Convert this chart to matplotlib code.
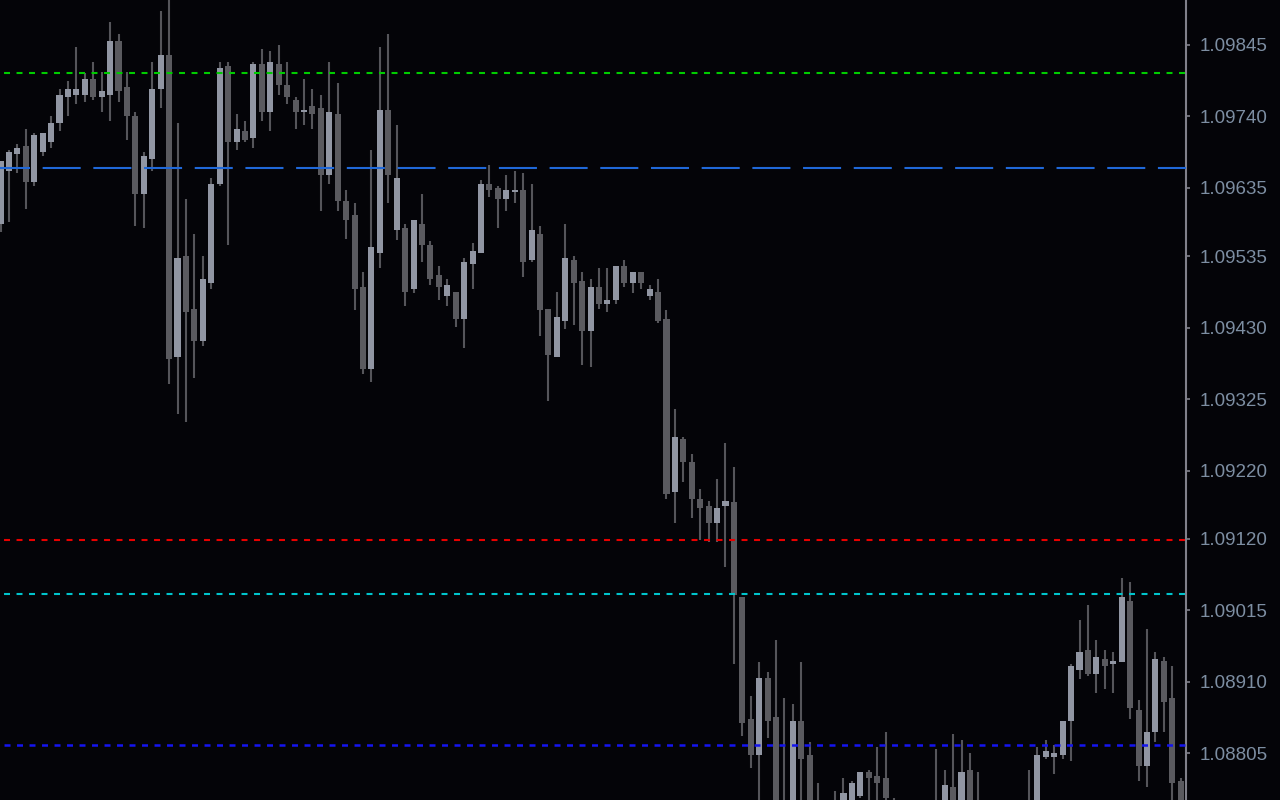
import numpy as np
import matplotlib.pyplot as plt

plt.rcParams['lines.scale_dashes'] = False

# OHLC, one entry per bar (left to right)
opens = [
    1.09582, 1.09660, 1.09685, 1.09697, 1.09644, 1.09688, 1.09702, 1.09730, 1.09769, 1.09771,
    1.09771, 1.09795, 1.09769, 1.09771, 1.09851, 1.09783, 1.09741, 1.09626, 1.09677, 1.09780,
    1.09830, 1.09387, 1.09535, 1.09458, 1.09411, 1.09495, 1.09641, 1.09814, 1.09702, 1.09719,
    1.09708, 1.09817, 1.09746, 1.09817, 1.09786, 1.09764, 1.09746, 1.09755, 1.09752, 1.09654,
    1.09744, 1.09616, 1.09595, 1.09489, 1.09369, 1.09539, 1.09749, 1.09573, 1.09576, 1.09486,
    1.09582, 1.09551, 1.09507, 1.09476, 1.09483, 1.09442, 1.09523, 1.09539, 1.09641, 1.09635,
    1.09619, 1.09629, 1.09632, 1.09529, 1.09567, 1.09458, 1.09387, 1.09439, 1.09529, 1.09498,
    1.09425, 1.09489, 1.09464, 1.09470, 1.09520, 1.09495, 1.09511, 1.09476, 1.09483, 1.09442,
    1.09188, 1.09266, 1.09232, 1.09179, 1.09168, 1.09143, 1.09168, 1.09174, 1.09034, 1.08855,
    1.08802, 1.08916, 1.08858, 1.08725, 1.08720, 1.08852, 1.08802, 1.08730, 1.08712, 1.08720,
    1.08730, 1.08728, 1.08743, 1.08777, 1.08771, 1.08768, 1.08728, 1.08730, 1.08712, 1.08705,
    1.08720, 1.08715, 1.08725, 1.08755, 1.08730, 1.08780, 1.08737, 1.08725, 1.08710, 1.08722,
    1.08715, 1.08720, 1.08726, 1.08725, 1.08799, 1.08799, 1.08802, 1.08852, 1.08928, 1.08956,
    1.08922, 1.08944, 1.08936, 1.08939, 1.09028, 1.08869, 1.08786, 1.08836, 1.08941, 1.08886,
    1.08765,
]
highs = [
    1.09675, 1.09691, 1.09700, 1.09722, 1.09716, 1.09716, 1.09741, 1.09780, 1.09792, 1.09842,
    1.09804, 1.09820, 1.09805, 1.09879, 1.09861, 1.09805, 1.09746, 1.09688, 1.09820, 1.09895,
    1.09918, 1.09730, 1.09619, 1.09567, 1.09535, 1.09650, 1.09820, 1.09820, 1.09744, 1.09733,
    1.09820, 1.09839, 1.09836, 1.09845, 1.09820, 1.09769, 1.09795, 1.09780, 1.09771, 1.09820,
    1.09789, 1.09632, 1.09613, 1.09511, 1.09691, 1.09842, 1.09861, 1.09727, 1.09582, 1.09588,
    1.09626, 1.09557, 1.09520, 1.09501, 1.09483, 1.09532, 1.09554, 1.09647, 1.09669, 1.09638,
    1.09654, 1.09660, 1.09657, 1.09641, 1.09579, 1.09458, 1.09483, 1.09582, 1.09535, 1.09511,
    1.09501, 1.09517, 1.09517, 1.09520, 1.09529, 1.09511, 1.09511, 1.09492, 1.09501, 1.09456,
    1.09310, 1.09269, 1.09244, 1.09193, 1.09176, 1.09207, 1.09260, 1.09226, 1.09034, 1.08889,
    1.08939, 1.08925, 1.08972, 1.08886, 1.08877, 1.08939, 1.08821, 1.08762, 1.08737, 1.08749,
    1.08768, 1.08765, 1.08777, 1.08780, 1.08814, 1.08836, 1.08740, 1.08734, 1.08725, 1.08728,
    1.08733, 1.08811, 1.08780, 1.08833, 1.08824, 1.08805, 1.08777, 1.08734, 1.08730, 1.08733,
    1.08728, 1.08734, 1.08780, 1.08814, 1.08824, 1.08817, 1.08852, 1.08936, 1.09000, 1.09022,
    1.08972, 1.08956, 1.08953, 1.09062, 1.09056, 1.08883, 1.08987, 1.08953, 1.08947, 1.08933,
    1.08768,
]
lows = [
    1.09570, 1.09585, 1.09657, 1.09604, 1.09638, 1.09682, 1.09694, 1.09719, 1.09741, 1.09758,
    1.09761, 1.09764, 1.09746, 1.09733, 1.09761, 1.09705, 1.09579, 1.09576, 1.09660, 1.09752,
    1.09347, 1.09303, 1.09291, 1.09356, 1.09403, 1.09486, 1.09638, 1.09551, 1.09691, 1.09702,
    1.09694, 1.09733, 1.09719, 1.09771, 1.09758, 1.09722, 1.09727, 1.09722, 1.09601, 1.09641,
    1.09601, 1.09560, 1.09456, 1.09362, 1.09350, 1.09517, 1.09613, 1.09558, 1.09461, 1.09481,
    1.09526, 1.09492, 1.09470, 1.09461, 1.09431, 1.09400, 1.09486, 1.09539, 1.09622, 1.09576,
    1.09601, 1.09613, 1.09504, 1.09526, 1.09417, 1.09322, 1.09387, 1.09428, 1.09434, 1.09375,
    1.09372, 1.09458, 1.09453, 1.09464, 1.09489, 1.09481, 1.09486, 1.09470, 1.09437, 1.09179,
    1.09143, 1.09204, 1.09151, 1.09118, 1.09115, 1.09115, 1.09078, 1.08936, 1.08830, 1.08783,
    1.08720, 1.08827, 1.08700, 1.08700, 1.08710, 1.08725, 1.08715, 1.08700, 1.08695, 1.08700,
    1.08715, 1.08718, 1.08740, 1.08730, 1.08725, 1.08725, 1.08718, 1.08700, 1.08690, 1.08695,
    1.08705, 1.08700, 1.08715, 1.08720, 1.08720, 1.08715, 1.08715, 1.08700, 1.08695, 1.08705,
    1.08700, 1.08708, 1.08715, 1.08715, 1.08796, 1.08774, 1.08796, 1.08793, 1.08914, 1.08919,
    1.08894, 1.08900, 1.08894, 1.08939, 1.08855, 1.08765, 1.08755, 1.08821, 1.08836, 1.08730,
    1.08720,
]
closes = [
    1.09675, 1.09688, 1.09694, 1.09644, 1.09713, 1.09716, 1.09730, 1.09771, 1.09780, 1.09780,
    1.09795, 1.09769, 1.09777, 1.09851, 1.09777, 1.09741, 1.09626, 1.09682, 1.09780, 1.09830,
    1.09384, 1.09532, 1.09453, 1.09411, 1.09501, 1.09641, 1.09811, 1.09702, 1.09722, 1.09705,
    1.09817, 1.09746, 1.09820, 1.09786, 1.09769, 1.09746, 1.09749, 1.09744, 1.09654, 1.09746,
    1.09616, 1.09588, 1.09486, 1.09369, 1.09548, 1.09749, 1.09654, 1.09650, 1.09483, 1.09588,
    1.09551, 1.09501, 1.09489, 1.09492, 1.09442, 1.09526, 1.09542, 1.09641, 1.09632, 1.09619,
    1.09632, 1.09632, 1.09526, 1.09573, 1.09456, 1.09390, 1.09445, 1.09532, 1.09495, 1.09425,
    1.09489, 1.09464, 1.09470, 1.09520, 1.09495, 1.09511, 1.09495, 1.09486, 1.09439, 1.09185,
    1.09269, 1.09232, 1.09179, 1.09165, 1.09143, 1.09165, 1.09176, 1.09037, 1.08849, 1.08802,
    1.08916, 1.08852, 1.08715, 1.08710, 1.08852, 1.08796, 1.08725, 1.08712, 1.08720, 1.08725,
    1.08746, 1.08762, 1.08777, 1.08768, 1.08762, 1.08740, 1.08737, 1.08712, 1.08705, 1.08720,
    1.08715, 1.08728, 1.08758, 1.08730, 1.08777, 1.08728, 1.08725, 1.08710, 1.08722, 1.08715,
    1.08720, 1.08726, 1.08730, 1.08802, 1.08808, 1.08805, 1.08852, 1.08933, 1.08953, 1.08922,
    1.08947, 1.08933, 1.08941, 1.09034, 1.08872, 1.08786, 1.08836, 1.08944, 1.08880, 1.08762,
    1.08730,
]

# horizontal levels
levels = [1.09804, 1.09665, 1.09118, 1.09039, 1.08817]
level_colors = ['#00cc00', '#2068d8', '#e80000', '#00c4cc', '#1414f0']
level_dashes = [(6.1, (4.3, 4.7)), (5.8, (27.4, 9.1)), (6.1, (4.3, 4.7)),
                (6.1, (4.3, 4.7)), (6.1, (4.3, 4.7))]
level_widths = [1.5, 1.5, 1.5, 1.5, 1.8]

tick_labels = ['1.09845', '1.09740', '1.09635', '1.09535', '1.09430', '1.09325',
               '1.09220', '1.09120', '1.09015', '1.08910', '1.08805']

bg = '#040408'
bull_col = '#9196a3'
bear_col = '#5a5a5f'
wick_col = '#55555a'
axis_col = '#80808a'
text_col = '#7d8ea2'

o = np.array(opens)
h = np.array(highs)
l = np.array(lows)
c = np.array(closes)
x = np.arange(len(o))
up = c >= o

fig = plt.figure(figsize=(12.8, 8), dpi=100, facecolor=bg)
ax = fig.add_axes([0, 0, 1186 / 1280, 1])
ax.set_facecolor(bg)

# wicks + bodies
ax.vlines(x, l, h, color=wick_col, linewidth=1.5, zorder=2)
body_lo = np.minimum(o, c)
body_h = np.maximum(np.abs(c - o), 0.00003)
ax.bar(x[up], body_h[up], bottom=body_lo[up], width=0.72, color=bull_col, linewidth=0, zorder=3)
ax.bar(x[~up], body_h[~up], bottom=body_lo[~up], width=0.72, color=bear_col, linewidth=0, zorder=3)

for lev, col, ds, lw in zip(levels, level_colors, level_dashes, level_widths):
    ax.axhline(lev, color=col, linewidth=lw, linestyle=ds, zorder=4)

ax.set_xlim(-0.06, 140.63)
ax.set_ylim(1.087364, 1.09911)

ax.yaxis.tick_right()
ax.set_yticks([float(t) for t in tick_labels])
ax.set_yticklabels(tick_labels)
ax.tick_params(axis='y', direction='out', length=3, width=1.2, colors=axis_col,
               labelcolor=text_col, pad=7, labelsize=13.5)
for lab in ax.get_yticklabels():
    lab.set_family('Liberation Sans')
ax.set_xticks([])
for side in ['top', 'bottom', 'left']:
    ax.spines[side].set_visible(False)
ax.spines['right'].set_color(axis_col)
ax.spines['right'].set_linewidth(1.5)

fig.savefig('out.png', dpi=100, facecolor=bg)
